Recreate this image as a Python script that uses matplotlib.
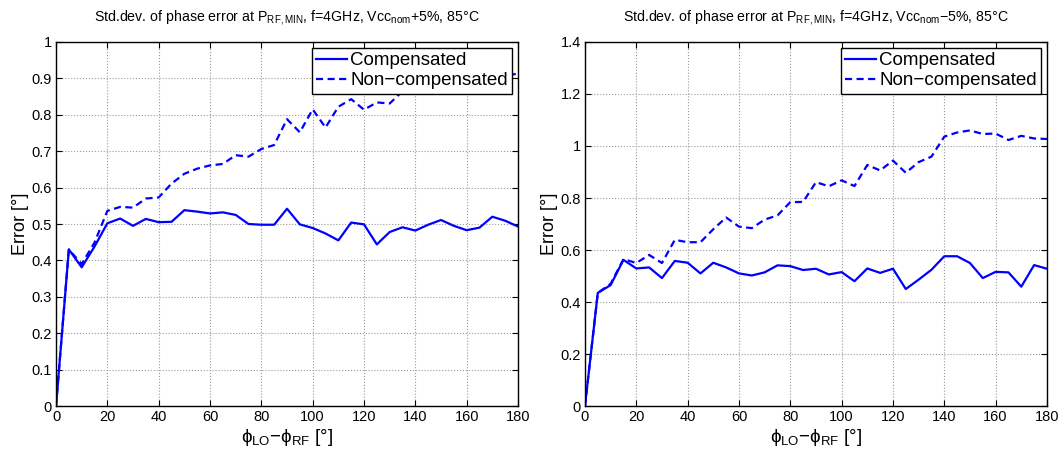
import matplotlib
matplotlib.use("Agg")
import matplotlib.pyplot as plt

plt.rcParams['font.family'] = ['Liberation Sans', 'DejaVu Sans']
plt.rcParams['mathtext.fontset'] = 'custom'
plt.rcParams['mathtext.rm'] = 'Liberation Sans'
plt.rcParams['mathtext.it'] = 'Liberation Sans:italic'
plt.rcParams['mathtext.bf'] = 'Liberation Sans:bold'

# Phase difference sweep (degrees)
phase = list(range(0, 181, 5))

# Vcc_nom +5 %
comp_plus = [0.0, 0.430, 0.381, 0.438, 0.502, 0.515, 0.495, 0.514, 0.505, 0.506,
             0.538, 0.534, 0.529, 0.532, 0.525, 0.500, 0.498, 0.498, 0.542, 0.499,
             0.489, 0.474, 0.455, 0.504, 0.499, 0.444, 0.478, 0.491, 0.482, 0.498,
             0.511, 0.495, 0.483, 0.490, 0.520, 0.509, 0.493]
noncomp_plus = [0.0, 0.430, 0.390, 0.449, 0.536, 0.547, 0.545, 0.570, 0.573, 0.611,
                0.638, 0.652, 0.661, 0.665, 0.689, 0.685, 0.706, 0.717, 0.788, 0.752,
                0.815, 0.765, 0.822, 0.843, 0.814, 0.834, 0.831, 0.865, 0.880, 0.885,
                0.890, 0.895, 0.900, 0.905, 0.900, 0.908, 0.913]

# Vcc_nom -5 %
comp_minus = [0.0, 0.435, 0.465, 0.562, 0.529, 0.533, 0.492, 0.558, 0.551, 0.510,
              0.551, 0.533, 0.510, 0.502, 0.514, 0.541, 0.538, 0.523, 0.528, 0.506,
              0.515, 0.480, 0.529, 0.512, 0.528, 0.450, 0.486, 0.524, 0.576, 0.576,
              0.550, 0.492, 0.516, 0.514, 0.459, 0.542, 0.528]
noncomp_minus = [0.0, 0.435, 0.470, 0.565, 0.550, 0.581, 0.550, 0.639, 0.630, 0.630,
                 0.680, 0.725, 0.690, 0.684, 0.717, 0.733, 0.784, 0.785, 0.861, 0.845,
                 0.868, 0.846, 0.927, 0.906, 0.944, 0.897, 0.938, 0.959, 1.036, 1.052,
                 1.060, 1.046, 1.048, 1.023, 1.039, 1.029, 1.027]

x_ticks = list(range(0, 181, 20))
y_ticks_plus = [0, 0.1, 0.2, 0.3, 0.4, 0.5, 0.6, 0.7, 0.8, 0.9, 1]
y_ticks_minus = [0, 0.2, 0.4, 0.6, 0.8, 1, 1.2, 1.4]

titles = [
    r"Std.dev. of phase error at P$_{\mathrm{RF,MIN}}$, f=4GHz, Vcc$_{\mathrm{nom}}$+5%, 85°C",
    r"Std.dev. of phase error at P$_{\mathrm{RF,MIN}}$, f=4GHz, Vcc$_{\mathrm{nom}}$−5%, 85°C",
]

fig = plt.figure(figsize=(10.63, 4.54), dpi=100)
ax1 = fig.add_axes([0.0527, 0.1057, 0.4346, 0.8018])
ax2 = fig.add_axes([0.5503, 0.1057, 0.4346, 0.8018])

panels = [
    (ax1, comp_plus, noncomp_plus, y_ticks_plus, titles[0]),
    (ax2, comp_minus, noncomp_minus, y_ticks_minus, titles[1]),
]

blue = '#0000ff'
for ax, comp, noncomp, yt, title in panels:
    ax.plot(phase, comp, color=blue, lw=1.6, label='Compensated')
    ax.plot(phase, noncomp, color=blue, lw=1.6, dashes=(3.2, 2.0),
            label='Non\u2212compensated')
    ax.set_xlim(0, 180)
    ax.set_ylim(yt[0], yt[-1])
    ax.set_xticks(x_ticks)
    ax.set_yticks(yt)
    ax.set_yticklabels([f"{v:g}" for v in yt])
    ax.tick_params(direction='in', top=True, right=True, labelsize=10.5,
                   length=4, width=0.8, pad=3)
    ax.grid(True, linestyle=':', color='#999999', linewidth=0.8)
    for s in ax.spines.values():
        s.set_linewidth(1.0)
        s.set_color('black')
    ax.set_title(title, fontsize=10.2, pad=15)
    ax.set_ylabel('Error [°]', fontsize=13, labelpad=2)
    ax.set_xlabel('ϕ$_{\\mathrm{LO}}$−ϕ$_{\\mathrm{RF}}$ [°]', fontsize=13.5, labelpad=2)
    leg = ax.legend(loc='upper right', fontsize=13.5, fancybox=False,
                    framealpha=1, edgecolor='black', borderpad=0.25,
                    handlelength=1.65, handletextpad=0.15, labelspacing=0.15,
                    borderaxespad=0.3)
    leg.get_frame().set_linewidth(1.0)

fig.savefig('out.png', dpi=100)
